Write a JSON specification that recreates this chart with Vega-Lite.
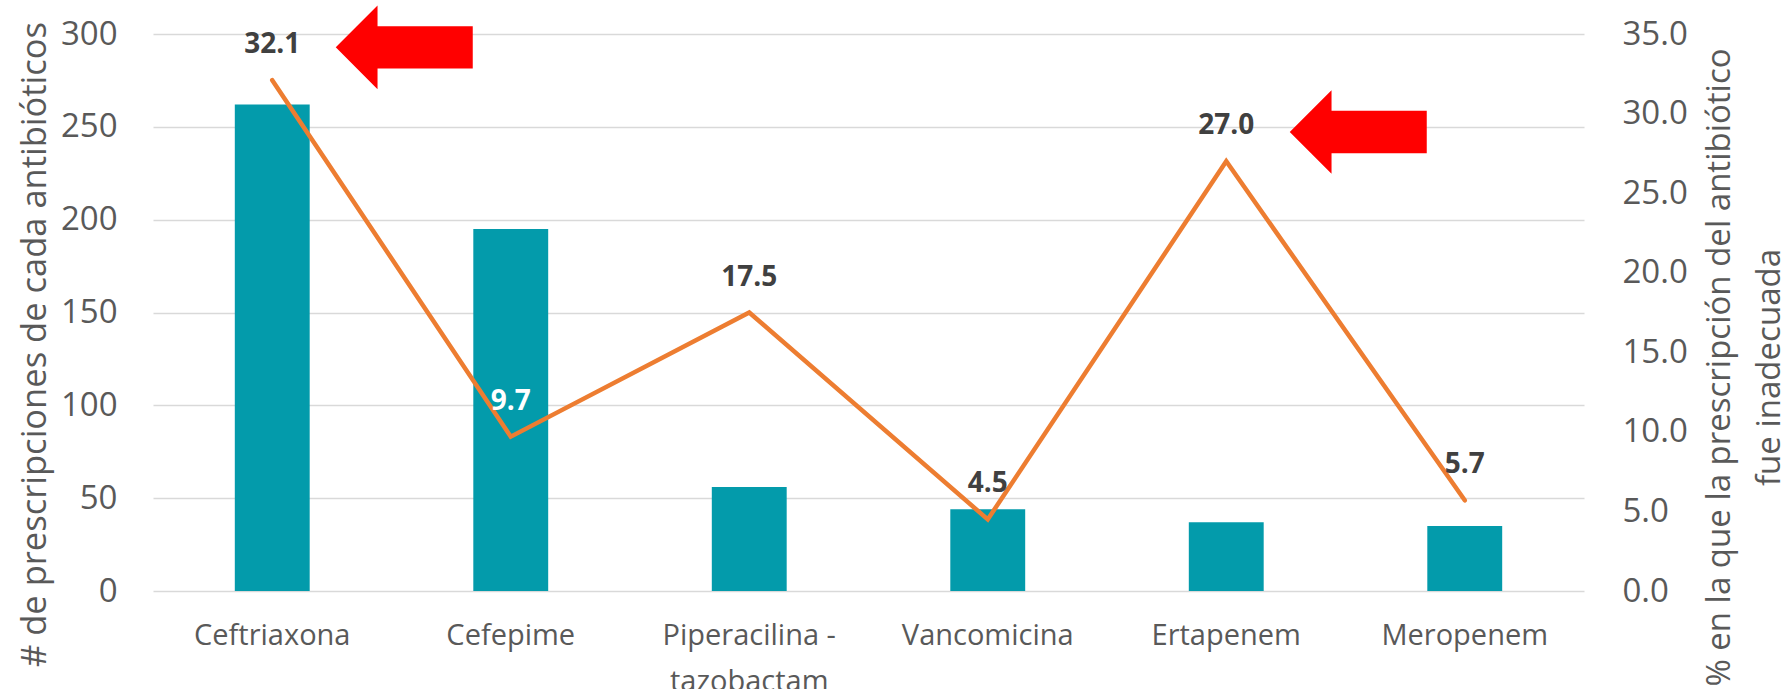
{
  "$schema": "https://vega.github.io/schema/vega-lite/v6.json",
  "width": 1431,
  "height": 557,
  "autosize": {"type": "none"},
  "padding": {"left": 153, "top": 34, "right": 203, "bottom": 98},
  "background": "white",
  "config": {
    "view": {"stroke": null},
    "font": "Open Sans"
  },
  "data": {
    "values": [
      {"drug": "Ceftriaxona", "count": 262, "pct": 32.1},
      {"drug": "Cefepime", "count": 195, "pct": 9.7},
      {"drug": "Piperacilina - tazobactam", "count": 56, "pct": 17.5},
      {"drug": "Vancomicina", "count": 44, "pct": 4.5},
      {"drug": "Ertapenem", "count": 37, "pct": 27.0},
      {"drug": "Meropenem", "count": 35, "pct": 5.7}
    ]
  },
  "encoding": {
    "x": {
      "field": "drug",
      "type": "nominal",
      "sort": null,
      "scale": {
        "domain": ["Ceftriaxona", "Cefepime", "Piperacilina - tazobactam", "Vancomicina", "Ertapenem", "Meropenem"],
        "paddingInner": 0.686,
        "paddingOuter": 0.343
      },
      "axis": {
        "title": null,
        "labelAngle": 0,
        "domain": false,
        "ticks": false,
        "labelFont": "Open Sans",
        "labelFontSize": 29,
        "labelColor": "#595959",
        "labelPadding": 30,
        "labelLineHeight": 46,
        "labelExpr": "datum.value == 'Piperacilina - tazobactam' ? ['Piperacilina -', 'tazobactam'] : datum.value"
      }
    }
  },
  "layer": [
    {
      "mark": {"type": "bar", "color": "#039BAB"},
      "encoding": {
        "y": {
          "field": "count",
          "type": "quantitative",
          "scale": {"domain": [0, 300], "nice": false},
          "axis": {
            "title": "# de prescripciones de cada antibióticos",
            "values": [0, 50, 100, 150, 200, 250, 300],
            "grid": true,
            "gridColor": "#D9D9D9",
            "gridWidth": 1.5,
            "domain": false,
            "ticks": false,
            "labelFont": "Open Sans",
            "labelFontSize": 33,
            "labelColor": "#595959",
            "labelPadding": 36,
            "titleFont": "Open Sans",
            "titleFontSize": 34.5,
            "titleFontWeight": "normal",
            "titleColor": "#595959",
            "titlePadding": 8,
            "titleY": 310
          }
        }
      }
    },
    {
      "layer": [
        {
          "mark": {"type": "line", "color": "#ED7D31", "strokeWidth": 4.5, "strokeCap": "round"},
          "encoding": {
            "y": {
              "field": "pct",
              "type": "quantitative",
              "scale": {"domain": [0, 35], "nice": false},
              "axis": {
                "orient": "right",
                "title": ["% en la que la prescripción del antibiótico", "fue inadecuada"],
                "values": [0, 5, 10, 15, 20, 25, 30, 35],
                "format": ".1f",
                "grid": false,
                "domain": false,
                "ticks": false,
                "labelFont": "Open Sans",
                "labelFontSize": 33,
                "labelColor": "#595959",
                "labelPadding": 38,
                "titleFont": "Open Sans",
                "titleFontSize": 33,
                "titleFontWeight": "normal",
                "titleColor": "#595959",
                "titleAngle": -90,
                "titleBaseline": "top",
                "titleLineHeight": 50,
                "titlePadding": -34,
                "titleY": 333
              }
            }
          }
        },
        {
          "mark": {"type": "text", "fontWeight": "bold", "fontSize": 28, "font": "Open Sans", "dy": -35, "baseline": "middle"},
          "encoding": {
            "y": {"field": "pct", "type": "quantitative"},
            "text": {"field": "pct", "type": "quantitative", "format": ".1f"},
            "color": {
              "condition": {"test": "datum.drug === 'Cefepime'", "value": "#FFFFFF"},
              "value": "#404040"
            }
          }
        },
        {
          "data": {
            "values": [
              {"drug": "Ceftriaxona", "arrow_y": 34.16},
              {"drug": "Ertapenem", "arrow_y": 28.84}
            ]
          },
          "mark": {
            "type": "point",
            "shape": "M -1 0 L -0.39 -0.61 L -0.39 -0.31 L 1 -0.31 L 1 0.31 L -0.39 0.31 L -0.39 0.61 Z",
            "size": 18769,
            "filled": true,
            "color": "#FF0000",
            "opacity": 1,
            "xOffset": 132
          },
          "encoding": {
            "y": {"field": "arrow_y", "type": "quantitative"}
          }
        }
      ]
    }
  ],
  "resolve": {"scale": {"y": "independent"}}
}
